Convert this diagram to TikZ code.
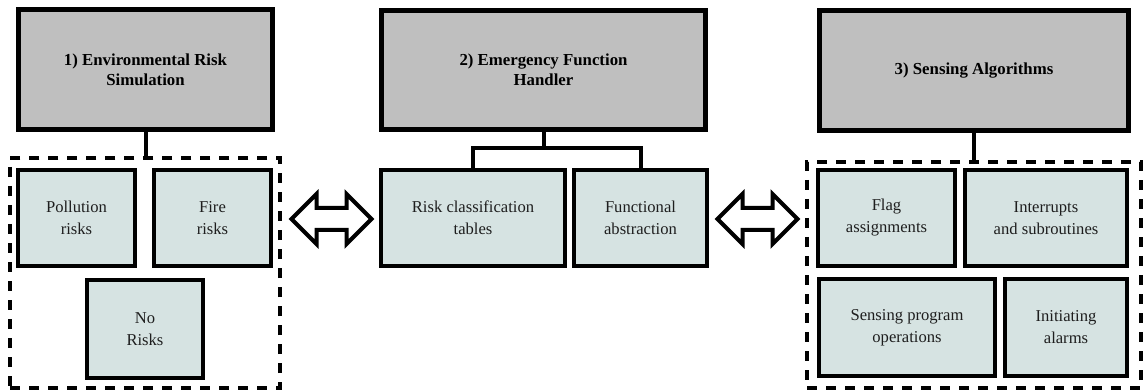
\documentclass[tikz,border=0pt]{standalone}
\usepackage{fontspec}
\setmainfont{Liberation Serif}
\usetikzlibrary{shapes.arrows,calc}
\definecolor{headfill}{HTML}{BFBFBF}
\definecolor{itemfill}{HTML}{D6E3E2}
\definecolor{itemtext}{HTML}{1E1E1E}
\begin{document}
\begin{tikzpicture}[x=1pt,y=-1pt,
  headbox/.style={draw=black, line width=5pt, fill=headfill, inner sep=0pt,
    align=center, font=\fontsize{16.8}{20}\selectfont\bfseries},
  itembox/.style={draw=black, line width=4pt, fill=itemfill, inner sep=0pt,
    align=center, text=itemtext, font=\fontsize{16.6}{22}\selectfont},
  groupbox/.style={draw=black, line width=4pt, dash pattern=on 10pt off 9pt, inner sep=0pt},
  link/.style={draw=black, line width=4pt},
  twoway/.style={double arrow, draw=black, fill=white, line width=4pt, inner sep=0pt,
    inner ysep=9pt, double arrow head extend=14pt, double arrow tip angle=90,
    minimum height=80pt}
]
\useasboundingbox (0,0) rectangle (1143,390);

% group 1: environmental risk simulation
\node[headbox, minimum width=254, minimum height=120] (env) at (145.5,69.5)
  {1) Environmental Risk\\Simulation};
\node[groupbox, minimum width=270, minimum height=230] (envgrp) at (145.25,273) {};
\node[itembox, minimum width=117, minimum height=96] (poll) at (76.5,218) {Pollution\\risks};
\node[itembox, minimum width=117, minimum height=96] (fire) at (212.5,218) {Fire\\risks};
\node[itembox, minimum width=116, minimum height=98] (norisk) at (145,329) {No\\Risks};
\draw[link] (env.south) -- (env.south |- envgrp.north);

% group 2: emergency function handler
\node[headbox, minimum width=324, minimum height=119] (efh) at (543.5,70)
  {2) Emergency Function\\Handler};
\node[itembox, minimum width=184, minimum height=96] (riskcls) at (473,218)
  {Risk classification\\tables};
\node[itembox, minimum width=133, minimum height=96] (funcabs) at (640.5,218)
  {Functional\\abstraction};
\coordinate (split) at ($(efh.south)+(0,16)$);
\draw[link] (efh.south) -- (split);
\draw[link] (riskcls.north) |- (split) -| (funcabs.north);

% group 3: sensing algorithms
\node[headbox, minimum width=309, minimum height=120] (sense) at (974,70.5)
  {3) Sensing Algorithms};
\node[groupbox, minimum width=334, minimum height=226] (sensegrp) at (974,275) {};
\node[itembox, minimum width=137, minimum height=96] (flag) at (886.5,218)
  {Flag\\assignments};
\node[itembox, minimum width=162, minimum height=96] (intr) at (1046,218)
  {Interrupts\\and subroutines};
\node[itembox, minimum width=176, minimum height=97] (progops) at (907,327.5)
  {Sensing program\\operations};
\node[itembox, minimum width=122, minimum height=97] (alarm) at (1066,327.5)
  {Initiating\\alarms};
\draw[link] (sense.south) -- (sense.south |- sensegrp.north);

% two-way exchanges between the groups
\node[twoway] (ab) at (331.5,219) {};
\node[twoway] (bc) at (757.5,219) {};
\end{tikzpicture}
\end{document}
